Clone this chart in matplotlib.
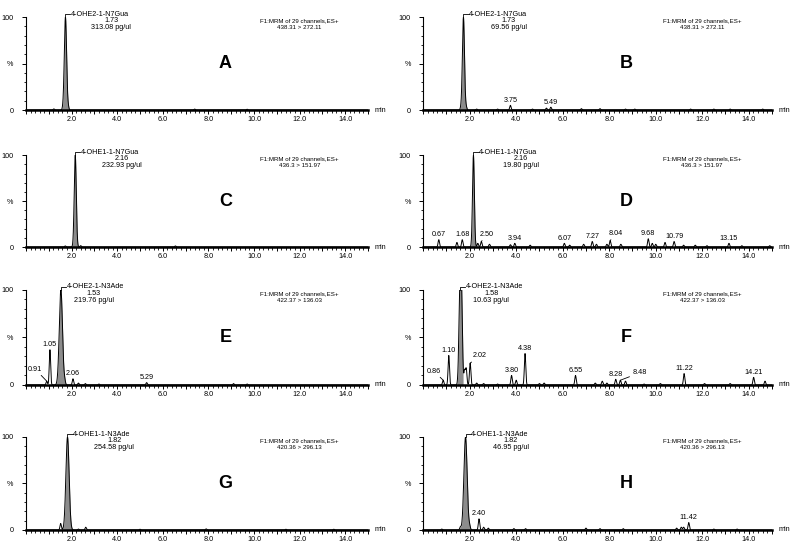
import numpy as np
import matplotlib
matplotlib.use('Agg')
from matplotlib import pyplot as plt
from matplotlib.ticker import MultipleLocator, FuncFormatter

plt.rcParams['font.family'] = ['Liberation Sans', 'DejaVu Sans']

# ---- data ----
letters = ['A', 'B', 'C', 'D', 'E', 'F', 'G', 'H']
compound = ['4-OHE2-1-N7Gua', '4-OHE2-1-N7Gua', '4-OHE1-1-N7Gua', '4-OHE1-1-N7Gua',
            '4-OHE2-1-N3Ade', '4-OHE2-1-N3Ade', '4-OHE1-1-N3Ade', '4-OHE1-1-N3Ade']
main_rt = [1.73, 1.73, 2.16, 2.16, 1.53, 1.58, 1.82, 1.82]
main_sigma = [0.05, 0.045, 0.045, 0.04, 0.07, 0.045, 0.07, 0.07]
conc = ['313.08', '69.56', '232.93', '19.80', '219.76', '10.63', '254.58', '46.95']
transition = ['438.31 > 272.11', '438.31 > 272.11', '436.3 > 151.97', '436.3 > 151.97',
              '422.37 > 136.03', '422.37 > 136.03', '420.36 > 296.13', '420.36 > 296.13']

# minor peaks: retention time (min) and height (%)
a_rt = [1.22, 1.62, 1.85, 7.4, 9.7]
a_h = [1.2, 1.5, 3, 1, 0.8]
a_lab = []

b_rt = [1.62, 1.85, 2.3, 3.2, 3.75, 4.7, 5.3, 5.49, 6.8, 7.6, 8.7, 9.1, 11.5, 12.5, 13.2, 14.6]
b_h = [2, 3, 1, 1, 5, 1, 2, 3, 1.5, 1.5, 1, 1, 1, 1, 1, 1]
b_lab = [3.75, 5.49]

c_rt = [1.72, 2.4, 6.55]
c_h = [1.2, 1.5, 1.2]
c_lab = []

d_rt = [0.67, 1.45, 1.68, 2.35, 2.50, 2.85, 3.75, 3.94, 4.6, 6.07, 6.3, 6.9, 7.27, 7.45,
        7.9, 8.04, 8.5, 9.68, 9.85, 10.0, 10.4, 10.79, 11.2, 11.7, 12.2, 13.15, 13.7, 14.9]
d_h = [8, 5, 8, 4, 6, 3, 2.5, 4, 2, 4, 2, 3, 6, 3,
       3, 7, 3, 9, 4, 3, 5, 6, 2, 2, 1.5, 4, 1.5, 1.5]
d_lab = [0.67, 1.68, 2.50, 3.94, 6.07, 7.27, 8.04, 9.68, 10.79, 13.15]

e_rt = [0.91, 1.05, 1.7, 2.06, 2.3, 2.6, 3.2, 5.29, 9.1, 9.7]
e_h = [4, 37, 3, 6.5, 2, 1.5, 1, 2.5, 1.5, 1]
e_lab = [0.91, 1.05, 2.06, 5.29]

f_rt = [0.86, 1.10, 1.65, 1.78, 1.85, 2.02, 2.3, 2.6, 3.2, 3.80, 4.0, 4.38, 5.0, 5.2,
        6.55, 7.4, 7.7, 7.9, 8.28, 8.48, 8.7, 9.5, 10.2, 11.22, 12.1, 13.2, 14.21, 14.7]
f_h = [5, 31, 80, 15, 17, 23, 2, 1.5, 1, 10, 5, 33, 1.5, 2,
       10, 2, 4, 2, 6, 5, 4, 1, 1.5, 12, 1.5, 1.5, 8, 4]
f_lab = [0.86, 1.10, 2.02, 3.80, 4.38, 6.55, 8.28, 8.48, 11.22, 14.21]

g_rt = [1.52, 2.3, 2.62, 5.0, 7.9, 11.4, 13.5]
g_h = [7, 1, 3, 0.8, 1.2, 0.8, 0.8]
g_lab = []

h_rt = [0.8, 1.6, 2.0, 2.40, 2.6, 2.8, 3.9, 4.4, 7.0, 7.6, 8.6, 10.9, 11.1, 11.2, 11.42, 12.5, 13.5]
h_h = [1, 3, 3, 12, 3, 2, 1.5, 1.5, 2, 1.5, 1.5, 2, 3, 3, 8, 1, 1]
h_lab = [2.40, 11.42]

minor_rt = [a_rt, b_rt, c_rt, d_rt, e_rt, f_rt, g_rt, h_rt]
minor_h = [a_h, b_h, c_h, d_h, e_h, f_h, g_h, h_h]
labeled = [a_lab, b_lab, c_lab, d_lab, e_lab, f_lab, g_lab, h_lab]

# labels placed away from their peak, with a leader line
leader_pos = {('D', 2.50): (2.75, 10), ('D', 8.04): (8.3, 11),
              ('E', 0.91): (0.4, 13), ('F', 0.86): (0.45, 11),
              ('F', 2.02): (2.45, 27), ('F', 8.48): (9.3, 9)}
sub_dx = [1.75, 1.7, 1.8, 1.8, 1.2, 1.1, 1.8, 1.7]

# ---- layout ----
col_x = [(0.0325, 0.4275), (0.529, 0.436)]
row_y = [(0.7989, 0.170), (0.5484, 0.168), (0.2962, 0.174), (0.0311, 0.170)]

t = np.linspace(0, 15, 3001)
fs = 5.2
fs_small = 4.4

fig = plt.figure(figsize=(8, 5.47), dpi=100)

for i, letter in enumerate(letters):
    x0, w = col_x[i % 2]
    y0, h = row_y[i // 2]
    ax = fig.add_axes([x0, y0, w, h])

    rt0 = main_rt[i]
    sig = main_sigma[i]
    y = 100 * np.exp(-0.5 * ((t - rt0) / sig) ** 2)
    for r, hh in zip(minor_rt[i], minor_h[i]):
        s = 0.04 if hh > 50 else 0.03
        y += hh * np.exp(-0.5 * ((t - r) / s) ** 2)

    mask = np.abs(t - rt0) < 4 * sig
    if letter == 'F':
        mask = (t > 1.45) & (t < 1.72)
    ax.fill_between(t[mask], 0, y[mask], color='#8c8c8c', lw=0)
    ax.plot(t, y, color='black', lw=0.7)

    ax.set_xlim(0, 15)
    ax.set_ylim(0, 100)
    for s in ['top', 'right']:
        ax.spines[s].set_visible(False)
    ax.spines['bottom'].set_linewidth(1.8)
    ax.spines['left'].set_linewidth(0.8)

    ax.xaxis.set_major_locator(MultipleLocator(1))
    ax.xaxis.set_minor_locator(MultipleLocator(0.2))
    ax.xaxis.set_major_formatter(FuncFormatter(
        lambda v, p: '%.1f' % v if (round(v) % 2 == 0 and 0 < v < 15) else ''))
    ax.set_yticks([0, 50, 100])
    ax.set_yticklabels(['0', '%', '100'])
    ax.yaxis.set_minor_locator(MultipleLocator(10))
    ax.tick_params(which='major', length=3, width=0.7, labelsize=fs, pad=1.5)
    ax.tick_params(which='minor', length=1.8, width=0.6)
    ax.tick_params(axis='y', which='major', pad=6)

    ax.text(15.3, 0, 'min', fontsize=fs, va='center', ha='left', clip_on=False)

    # main peak label
    ax.plot([rt0, rt0, rt0 + 0.22], [100, 103, 103], color='black', lw=0.6, clip_on=False)
    ax.text(rt0 + 0.25, 103, compound[i], fontsize=fs, va='center', ha='left')
    xc = rt0 + 0.25 + sub_dx[i]
    ax.text(xc, 96, '%.2f' % rt0, fontsize=fs, va='center', ha='center')
    ax.text(xc, 89, conc[i] + ' pg/ul', fontsize=fs, va='center', ha='center')

    ax.text(12.0, 96, 'F1:MRM of 29 channels,ES+', fontsize=fs_small, va='center', ha='center')
    ax.text(12.0, 89, transition[i], fontsize=fs_small, va='center', ha='center')

    ax.text(8.75, 50, letter, fontsize=13, fontweight='bold', va='center', ha='center')

    for r in labeled[i]:
        hh = minor_h[i][minor_rt[i].index(r)]
        key = (letter, r)
        if key in leader_pos:
            tx, ty = leader_pos[key]
            ax.annotate('%.2f' % r, xy=(r, hh), xytext=(tx, ty), fontsize=fs,
                        ha='center', va='bottom',
                        arrowprops=dict(arrowstyle='-', lw=0.6, color='black',
                                        shrinkA=0, shrinkB=0))
        else:
            ax.text(r, hh + 1.5, '%.2f' % r, fontsize=fs, ha='center', va='bottom')

plt.savefig('out.png', dpi=100)
